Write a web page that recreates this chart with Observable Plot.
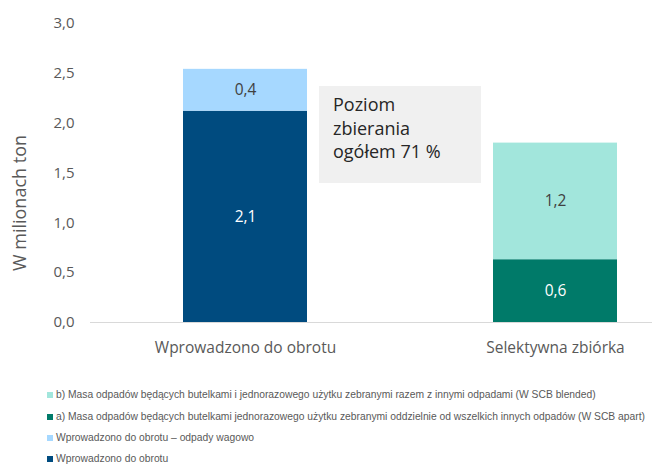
<!DOCTYPE html>
<html><head><meta charset="utf-8">
<script src="https://cdn.jsdelivr.net/npm/d3@7"></script>
<script src="https://cdn.jsdelivr.net/npm/@observablehq/plot@0.6"></script>
<style>
body{margin:0;background:#fff;}
#wrap{position:relative;width:652px;height:466px;overflow:hidden;font-family:"Open Sans",sans-serif;}
#chart svg{display:block;}
.note{position:absolute;left:319px;top:86px;width:148px;height:97px;padding-left:14px;background:#f0f0f0;color:#262626;font-size:18px;line-height:23.5px;box-sizing:content-box;}
.note div{white-space:nowrap;}
.legend{position:absolute;left:47px;top:0;width:605px;font-family:"Liberation Sans Narrow","Liberation Sans",sans-serif;font-size:10.3px;color:#595959;white-space:nowrap;}
.legend .row{position:absolute;left:0;height:14px;line-height:14px;display:flex;align-items:center;}
.legend .sw{width:6px;height:6px;margin-right:3px;flex:none;}
</style>
</head><body>
<div id="wrap">
  <div id="chart"></div>
  <div class="note" id="note"></div>
  <div class="legend" id="legend"></div>
</div>
<script>
const categories = ["Wprowadzono do obrotu", "Selektywna zbiórka"];
const seriesNames = [
  "Wprowadzono do obrotu",
  "Wprowadzono do obrotu – odpady wagowo",
  "a) Masa odpadów będących butelkami jednorazowego użytku zebranymi oddzielnie od wszelkich innych odpadów (W SCB apart)",
  "b) Masa odpadów będących butelkami i jednorazowego użytku zebranymi razem z innymi odpadami (W SCB blended)"
];
const seriesCategory = [categories[0], categories[0], categories[1], categories[1]];
const seriesValues = [2.12, 0.42, 0.63, 1.17];
const seriesColors = ["#004b7f", "#a6d8ff", "#007a69", "#a2e6dc"];
const darkSeries = [true, false, true, false];
const yTicks = [0, 0.5, 1, 1.5, 2, 2.5, 3];
const noteLines = ["Poziom", "zbierania", "ogółem 71 %"];
const legendOrder = [3, 2, 1, 0];
const axisLabel = "W milionach ton";

const data = seriesNames.map((s, i) => ({
  series: s, category: seriesCategory[i], value: seriesValues[i], dark: darkSeries[i]
}));
const fmt = d => d.toFixed(1).replace(".", ",");

const plot = Plot.plot({
  width: 652, height: 372,
  marginLeft: 90, marginRight: 0, marginTop: 23, marginBottom: 50,
  style: {fontFamily: '"Open Sans", sans-serif', fontSize: "15px", color: "#595959", background: "#fff"},
  x: {domain: categories, range: [90, 710], paddingInner: 0.6, paddingOuter: 0.3, label: null},
  y: {domain: [0, 3], label: null},
  color: {domain: seriesNames, range: seriesColors},
  marks: [
    Plot.axisY({ticks: yTicks, tickSize: 0, tickPadding: 16, tickFormat: fmt, label: null, fontSize: 15, fill: "#595959"}),
    Plot.axisX({tickSize: 0, tickPadding: 19, label: null, fontSize: 15.5, fill: "#595959"}),
    Plot.barY(data, {x: "category", y: "value", fill: "series"}),
    Plot.ruleY([0], {stroke: "#d9d9d9", strokeWidth: 1}),
    Plot.text(data, Plot.stackY({x: "category", y: "value", z: "series", text: d => d.dark ? fmt(d.value) : "", fill: "white", fontSize: 15.5})),
    Plot.text(data, Plot.stackY({x: "category", y: "value", z: "series", text: d => d.dark ? "" : fmt(d.value), fill: "#404040", fontSize: 15.5})),
    Plot.text([axisLabel], {frameAnchor: "left", text: d => d, rotate: -90, textAnchor: "middle", dx: -70, dy: 30, fontSize: 18, fill: "#595959"})
  ]
});
document.getElementById("chart").appendChild(plot);

const note = document.getElementById("note");
note.style.paddingTop = "7px";
note.style.height = "90px";
noteLines.forEach(t => { const d = document.createElement("div"); d.textContent = t; note.appendChild(d); });

const legend = document.getElementById("legend");
const rowCenters = [395, 417, 438, 459];
legendOrder.forEach((i, k) => {
  const r = document.createElement("div");
  r.className = "row";
  r.style.top = (rowCenters[k] - 7) + "px";
  const sw = document.createElement("span");
  sw.className = "sw"; sw.style.background = seriesColors[i];
  const t = document.createElement("span");
  t.textContent = seriesNames[i];
  r.appendChild(sw); r.appendChild(t);
  legend.appendChild(r);
});
</script>
</body></html>
